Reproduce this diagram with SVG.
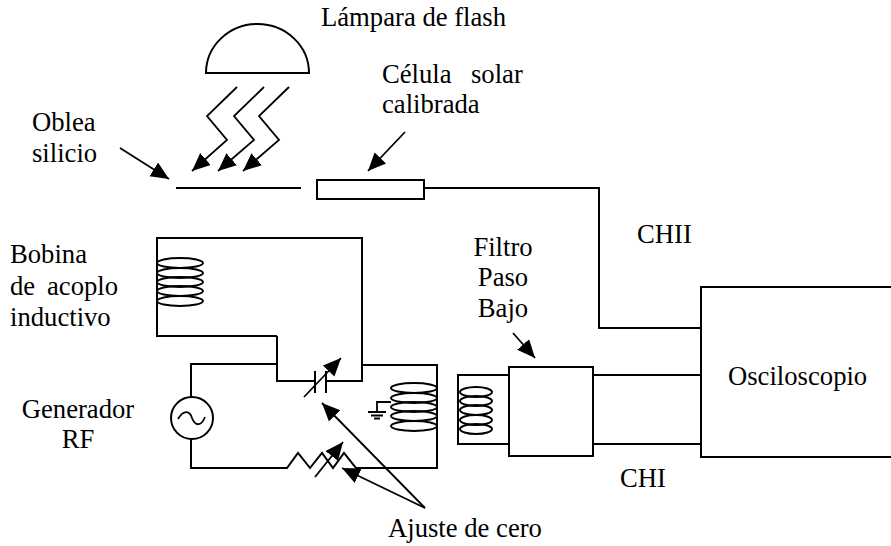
<svg xmlns="http://www.w3.org/2000/svg" width="891" height="546" viewBox="0 0 891 546">
<style>
text{font-family:"Liberation Serif","Times New Roman",serif;font-size:26.67px;fill:#000}
.m{text-anchor:middle}
.l{fill:none;stroke:#000;stroke-width:2;stroke-linejoin:miter}
.t{fill:none;stroke:#000;stroke-width:1.8}
.b{fill:#fff;stroke:#000;stroke-width:2}
.c ellipse{fill:none;stroke:#000;stroke-width:2}
</style>
<defs>
<marker id="a" markerUnits="userSpaceOnUse" markerWidth="22" markerHeight="18" refX="18" refY="8" orient="auto"><path d="M0 0L18 8L0 16z" fill="#000"/></marker>
</defs>
<rect width="891" height="546" fill="#fff"/>
<g id="connectors">
<path class="l" d="M424 188H599V328H701"/>
<path class="l" d="M277 336V381H315M326 381H362V238H157V336H277"/>
<path class="l" d="M278 364H191V397M191 439V468H287L298 453L310 468L322 453L333 468L344 453L356 468H437V365H362"/>
<path class="l" d="M593 375H701M593 444H701"/>
<path class="l" d="M509 375H458V444H509"/>
<path class="l" d="M176 188H301"/>
<path class="t" d="M120 148L169 179" marker-end="url(#a)"/>
<path class="t" d="M405 132L368 171" marker-end="url(#a)"/>
<path class="t" d="M237 87L207 116L227 140L192 171" marker-end="url(#a)"/>
<path class="t" d="M264 87L234 116L254 140L218 171" marker-end="url(#a)"/>
<path class="t" d="M289 87L259 116L279 140L243 171" marker-end="url(#a)"/>
<path class="t" d="M513 333L535 358" marker-end="url(#a)"/>
<path class="t" d="M304 397L341 358" marker-end="url(#a)"/>
<path class="t" d="M315 477L343 442" marker-end="url(#a)"/>
<path class="t" d="M425 508L322 403" marker-end="url(#a)"/>
<path class="t" d="M425 508L342 468" marker-end="url(#a)"/>
</g>
<g id="lampara"><path class="l" d="M205 73H310M206 73A51.500 49 0 0 1 309 73"/><text x="321" y="26">Lámpara de flash</text></g>
<g id="oblea"><text x="32" y="131">Oblea</text><text x="32" y="162">silicio</text></g>
<g id="celula"><rect class="b" x="317" y="180" width="107" height="19"/><text x="382" y="83">Célula<tspan x="471">solar</tspan></text><text x="382" y="113">calibrada</text></g>
<g id="bobina"><g class="c"><ellipse cx="180" cy="263" rx="23" ry="5"/><ellipse cx="180" cy="273" rx="23" ry="5"/><ellipse cx="180" cy="282" rx="23" ry="5"/><ellipse cx="180" cy="291" rx="23" ry="5"/><ellipse cx="180" cy="301" rx="23" ry="5"/></g><text x="10" y="263">Bobina</text><text x="10" y="295">de<tspan x="47">acoplo</tspan></text><text x="10" y="326">inductivo</text></g>
<g id="generador"><circle class="l" cx="192" cy="418" r="21"/><path class="t" d="M178 419C184 409 190 411 192 418C195 426 201 427 205 417"/><text x="78" y="418" class="m">Generador</text><text x="78" y="448" class="m">RF</text></g>
<g id="condensador"><path class="l" d="M315 371V393M326 371V393"/></g>
<g id="bobina2"><g class="c"><ellipse cx="414" cy="388" rx="23" ry="5"/><ellipse cx="414" cy="398" rx="23" ry="5"/><ellipse cx="414" cy="407" rx="23" ry="5"/><ellipse cx="414" cy="416" rx="23" ry="5"/><ellipse cx="414" cy="426" rx="23" ry="5"/></g><path class="t" d="M391 402H377V412M368 412H386M371 415.500H383M374 418.500H380"/></g>
<g id="bobina3"><g class="c"><ellipse cx="476" cy="392" rx="16" ry="5"/><ellipse cx="476" cy="401" rx="16" ry="5"/><ellipse cx="476" cy="410" rx="16" ry="5"/><ellipse cx="476" cy="420" rx="16" ry="5"/><ellipse cx="476" cy="429" rx="16" ry="5"/></g></g>
<g id="filtro"><rect class="b" x="509" y="367" width="84" height="89"/><text x="503" y="256" class="m">Filtro</text><text x="503" y="286" class="m">Paso</text><text x="503" y="317" class="m">Bajo</text></g>
<g id="osciloscopio"><rect class="b" x="701" y="287" width="192" height="170"/><text x="728" y="385">Osciloscopio</text></g>
<text x="637" y="243">CHII</text>
<text x="620" y="487">CHI</text>
<text x="388" y="537">Ajuste de cero</text>
</svg>
